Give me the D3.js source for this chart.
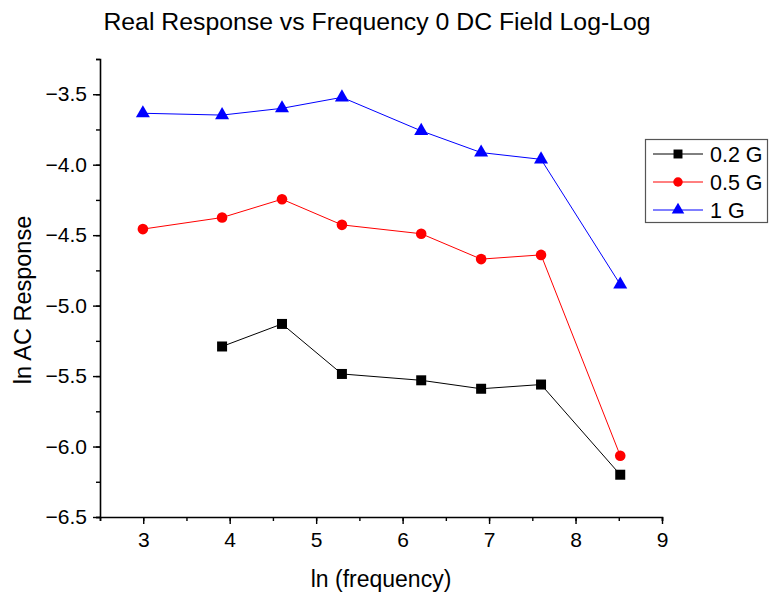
<!DOCTYPE html>
<html><head><meta charset="utf-8">
<script src="https://cdn.jsdelivr.net/npm/d3@7"></script>
<style>body{margin:0;background:#fff}svg{display:block;font-family:"Liberation Sans",Arial,sans-serif}</style>
</head><body><svg id="c" width="770" height="596"></svg>
<script>
const xs = [2.996, 3.912, 4.605, 5.298, 6.215, 6.908, 7.601, 8.517];
const seriesNames = ["0.2 G", "0.5 G", "1 G"];
const s02 = [null, -5.29, -5.13, -5.485, -5.53, -5.59, -5.56, -6.20];
const s05 = [-4.457, -4.375, -4.245, -4.427, -4.49, -4.67, -4.64, -6.065];
const s1 = [-3.635, -3.648, -3.60, -3.522, -3.76, -3.914, -3.962, -4.85];
const xTicks = [3, 4, 5, 6, 7, 8, 9];
const yTicks = [-6.5, -6.0, -5.5, -5.0, -4.5, -4.0, -3.5];
const colors = ["#000000", "#ff0000", "#0000ff"];
const symbols = [d3.symbolSquare, d3.symbolCircle, d3.symbolTriangle];
const symSizes = [100, 88, 85];

const svg = d3.select("#c");
const x = d3.scaleLinear().domain([2.5, 9]).range([100, 662]);
const y = d3.scaleLinear().domain([-6.5, -3.25]).range([517, 59]);

// Axes
const xMinor = d3.range(2.5, 9.01, 0.5);
const yMinor = d3.range(-6.5, -3.24, 0.25);
const xa = svg.append("g").attr("transform", `translate(0,${y(-6.5)})`);
xa.call(d3.axisBottom(x).tickValues(xMinor).tickSize(4).tickFormat(""));
xa.append("g").call(d3.axisBottom(x).tickValues(xTicks).tickSize(7).tickPadding(8).tickFormat(d3.format("d")));
const ya = svg.append("g").attr("transform", `translate(${x(2.5)},0)`);
ya.call(d3.axisLeft(y).tickValues(yMinor).tickSize(4).tickFormat(""));
ya.append("g").call(d3.axisLeft(y).tickValues(yTicks).tickSize(7).tickPadding(6).tickFormat(d3.format(".1f")));
svg.selectAll(".domain").attr("stroke", "#000").attr("stroke-width", 1.6);
svg.selectAll(".tick line").attr("stroke", "#000").attr("stroke-width", 1.4);
svg.selectAll(".tick text").attr("font-size", 21).attr("fill", "#000").attr("font-family", "Liberation Sans, Arial, sans-serif");
ya.selectAll("g g .domain").remove();
xa.selectAll("g g .domain").remove();

// Series
const all = [s02, s05, s1];
all.forEach((vals, i) => {
  const pts = xs.map((xv, j) => [xv, vals[j]]).filter(p => p[1] !== null);
  svg.append("path")
    .attr("d", d3.line().x(p => x(p[0])).y(p => y(p[1]))(pts))
    .attr("fill", "none").attr("stroke", colors[i]).attr("stroke-width", 1);
  svg.append("g").selectAll("path").data(pts).join("path")
    .attr("transform", p => `translate(${x(p[0])},${y(p[1])})`)
    .attr("d", d3.symbol().type(symbols[i]).size(symSizes[i]))
    .attr("fill", colors[i]);
});

// Title and labels
svg.append("text").attr("x", 377).attr("y", 30).attr("text-anchor", "middle")
  .attr("font-size", 24.8).text("Real Response vs Frequency 0 DC Field Log-Log");
svg.append("text").attr("x", 381).attr("y", 587).attr("text-anchor", "middle")
  .attr("font-size", 23).text("ln (frequency)");
svg.append("text").attr("transform", "translate(31,300) rotate(-90)").attr("text-anchor", "middle")
  .attr("font-size", 23.5).text("ln AC Response");

// Legend
const lg = svg.append("g");
lg.append("rect").attr("x", 645.5).attr("y", 139.5).attr("width", 122).attr("height", 83)
  .attr("fill", "#fff").attr("stroke", "#555").attr("stroke-width", 1.2);
seriesNames.forEach((n, i) => {
  const cy = 154 + i * 28;
  lg.append("line").attr("x1", 653).attr("x2", 703).attr("y1", cy).attr("y2", cy)
    .attr("stroke", colors[i]).attr("stroke-width", 1);
  lg.append("path").attr("transform", `translate(678,${cy})`)
    .attr("d", d3.symbol().type(symbols[i]).size(symSizes[i] * 0.8)).attr("fill", colors[i]);
  lg.append("text").attr("x", 710).attr("y", cy + 7.5).attr("font-size", 21.5).text(n);
});
</script></body></html>
